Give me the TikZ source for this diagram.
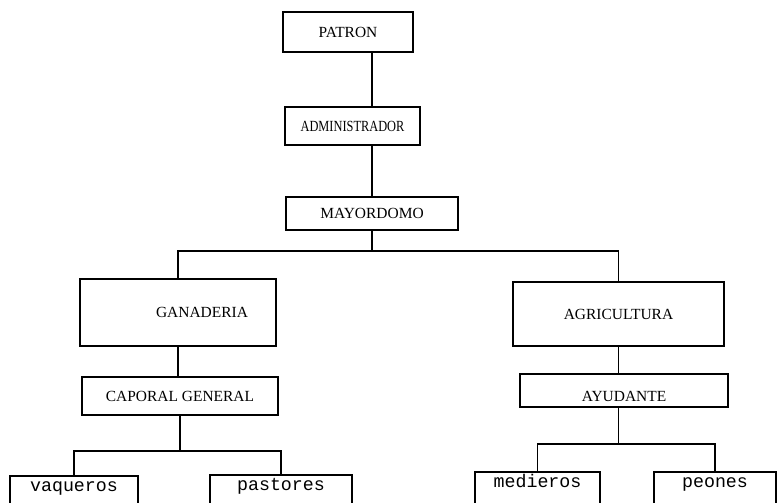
\documentclass[tikz,border=0pt]{standalone}
\usepackage{fontspec}
\setmainfont{Liberation Serif}
\setmonofont{Liberation Mono}
\usetikzlibrary{positioning, calc}

\begin{document}
\begin{tikzpicture}[
  x=0.025cm, y=-0.025cm,
  every node/.style = {font=\fontsize{11}{13}\selectfont},
  % node styles
  post/.style 2 args = {rectangle, draw=black, line width=1.1pt, inner sep=0pt,
                  align=center, minimum width=#1*0.025cm,
                  minimum height=#2*0.025cm},
  crew/.style  = {post={#1}{10}, anchor=north, inner ysep=0.1cm,
                  text height=0.3cm, text depth=0.8cm,
                  font=\ttfamily\fontsize{13}{15}\selectfont},
  % line styles
  link/.style  = {line width=1.1pt, color=black},
]
\useasboundingbox (0,0) rectangle (781,502);

%% Top chain
\node[post={130}{40}] (patron) at (348,32)    {PATRON};
\node[post={135}{38}] (admin)  at (352.5,126) {\scalebox{0.8}[1]{ADMINISTRADOR}};
\node[post={172}{33}] (mayor)  at (372,213.5) {MAYORDOMO};

%% Two branches
\node[post={196}{67}, label={[xshift=24*0.025cm]center:GANADERIA}] (ganad) at (178,312.5) {};
\node[post={211}{64}] (agri)  at (618.5,314) {AGRICULTURA};
\node[post={196}{38}] (capor) at (180,396)   {CAPORAL GENERAL};
\node[post={208}{33}, label={[anchor=south, yshift=0.04cm]south:AYUDANTE}] (ayud) at (624,390.5) {};

%% Workers (cut at the page edge)
\node[crew=128] (vaq)  at (74,475)    {vaqueros};
\node[crew=142] (past) at (281,474)   {pastores};
\node[crew=125] (medi) at (537.5,471) {medieros};
\node[crew=122] (peon) at (715,471)   {peones};

%% Connectors
\draw[link] (mayor.north |- patron.south) -- (mayor.north |- admin.north);
\draw[link] (mayor.north |- admin.south)  -- (mayor.north);
\draw[link] (mayor.south) -- ++(0,20) coordinate (bus)
            -| (ganad.north);
\draw[link] (bus) -| (agri.north);
\draw[link] (ganad.south) -- (ganad.south |- capor.north);
\draw[link] (capor.south) -- ++(0,35) coordinate (lbus) -| (vaq.north);
\draw[link] (lbus) -| (past.north);
\draw[link] (agri.south) -- (agri.south |- ayud.north);
\draw[link] (ayud.south -| agri.south) -- ++(0,36) coordinate (rbus)
            -| (medi.north);
\draw[link] (rbus) -| (peon.north);

\end{tikzpicture}
\end{document}
